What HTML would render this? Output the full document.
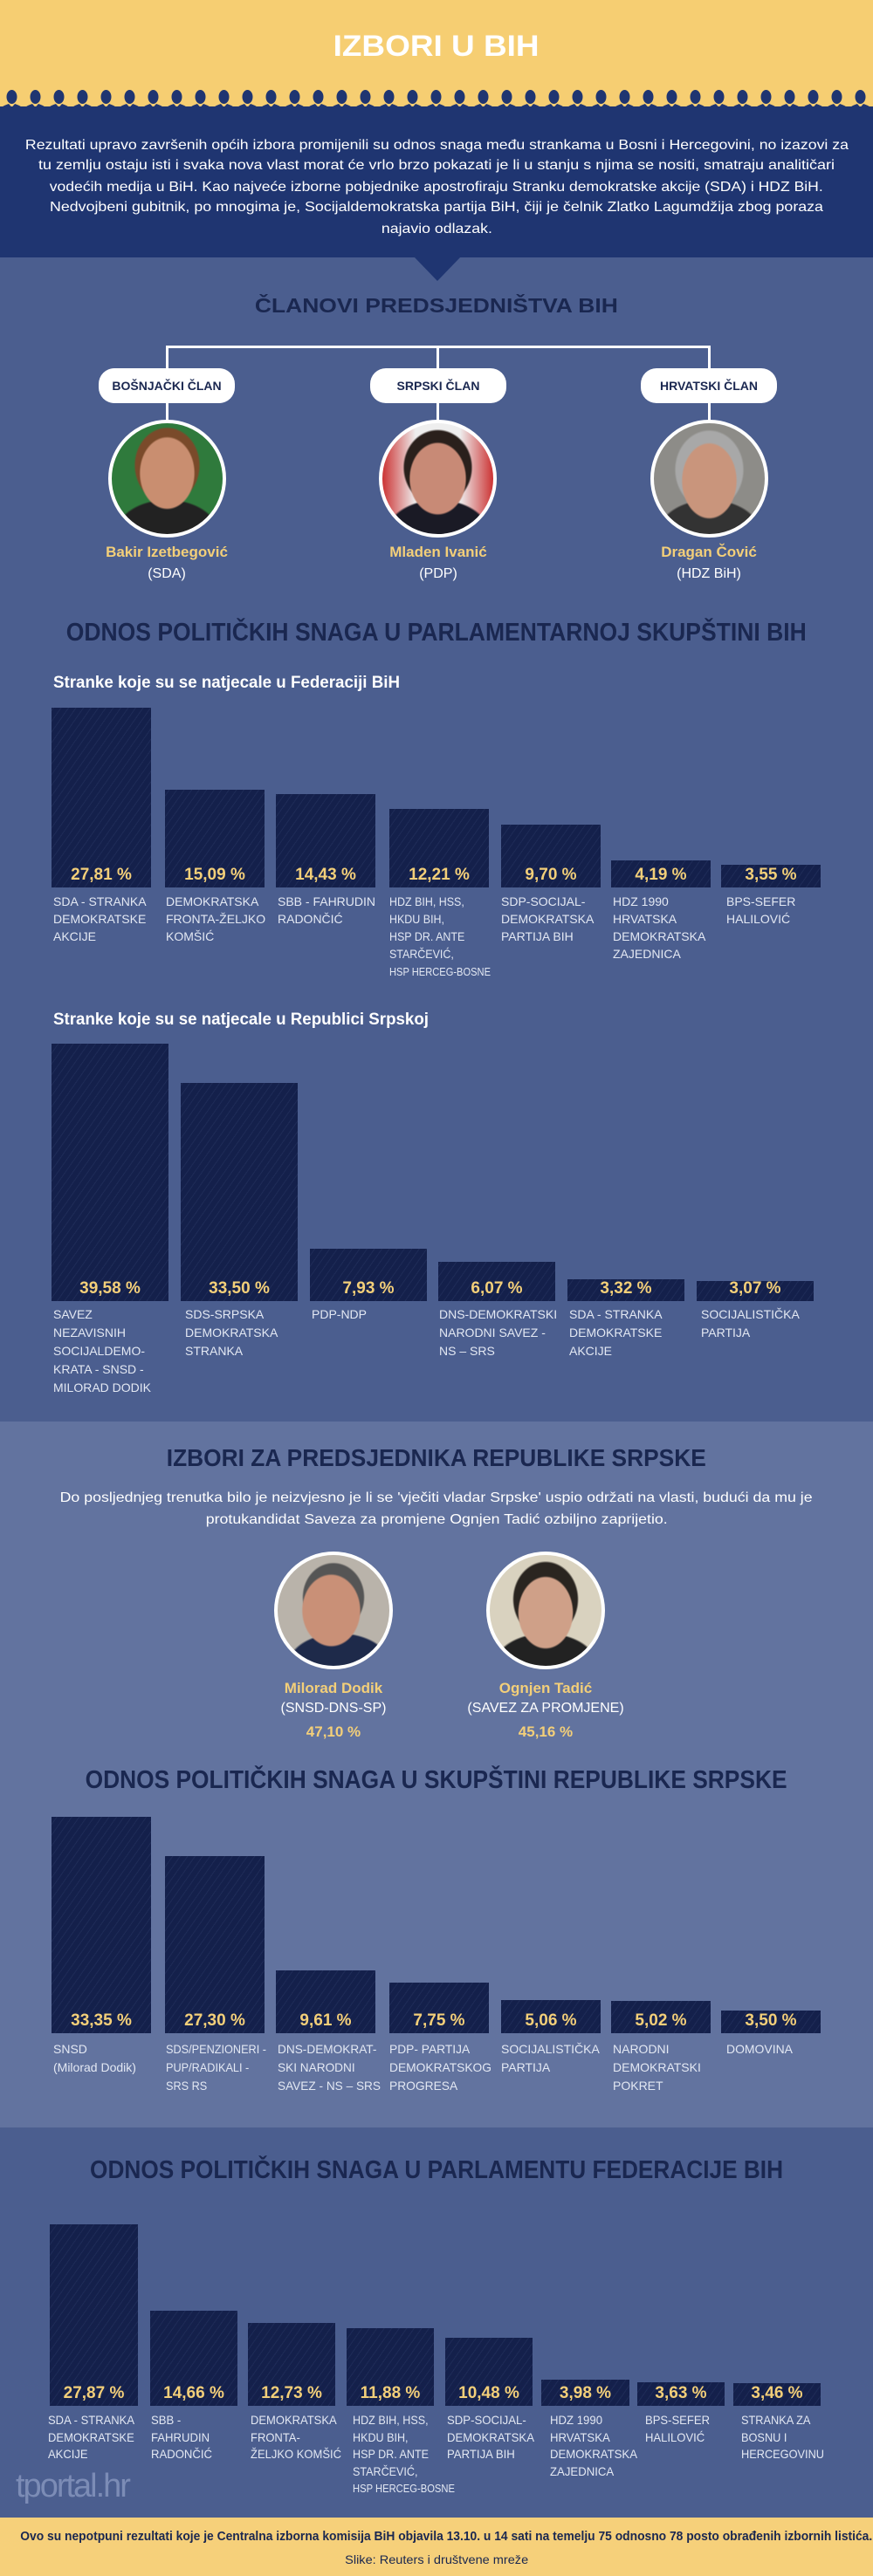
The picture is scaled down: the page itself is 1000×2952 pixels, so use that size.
<!DOCTYPE html>
<html><head><meta charset="utf-8">
<style>
*{margin:0;padding:0;box-sizing:border-box}
body{width:1000px;height:2952px;position:relative;overflow:hidden;font-family:"Liberation Sans Narrow","Liberation Sans",sans-serif;background:#4b5e8f}
.a{position:absolute}
.c{text-align:center;white-space:nowrap}
.fit{display:inline-block;white-space:nowrap}
.h{color:#1a2750;font-weight:bold;text-align:center;white-space:nowrap;left:0;width:1000px}
.bar{position:absolute;background:#14204b;background-image:repeating-linear-gradient(-55deg,#14204b 0 6px,#1e2b57 6px 7px)}
.val{position:absolute;left:0;right:0;bottom:2px;text-align:center;color:#f3cf79;font-weight:bold;font-size:19px;line-height:24px;white-space:nowrap}
.lab{position:absolute;color:#e3e8f3;font-size:14px;line-height:20px;text-transform:uppercase;white-space:nowrap;transform-origin:left top}
.pill{position:absolute;background:#fff;border-radius:18px;height:40px;width:156px;color:#1a2750;font-weight:bold;font-size:14px;line-height:40px;text-align:center}
.line{position:absolute;background:#fff}
.ph{position:absolute;border:4px solid #fff;border-radius:50%;overflow:hidden}
.name{position:absolute;color:#f3cf79;font-weight:bold;font-size:17px;text-align:center;white-space:nowrap}
.party{position:absolute;color:#fff;font-size:16px;text-align:center;white-space:nowrap}
.p{color:#fff;font-size:16px;line-height:24px;text-align:center;white-space:nowrap;left:0;width:1000px}
.sub{color:#fff;font-weight:bold;font-size:19px;white-space:nowrap;transform-origin:left top}
</style></head><body>
<div class="a" style="left:0;top:0;width:1000px;height:124px;background:#f6ce72"></div>
<div class="a" style="left:0;top:122px;width:1000px;height:173px;background:#1f3571"></div>
<svg class="a" style="left:0;top:100px" width="1000" height="30">
<defs><pattern id="pp" width="27" height="30" patternUnits="userSpaceOnUse">
<ellipse cx="13.5" cy="11" rx="6" ry="8" fill="#1f3571"/>
<path d="M0 30 L0 24 Q6 20 10 19 L13.5 23 L17 19 Q21 20 27 24 L27 30Z" fill="#1f3571"/>
</pattern></defs>
<rect width="1000" height="30" fill="url(#pp)"/></svg>
<div class="a c" style="left:0;width:1000px;top:34px;font-size:34px;font-weight:bold;color:#fff;line-height:38px"><span class="fit" style="--w:236">IZBORI U BIH</span></div>
<div class="a p" style="top:155px"><span class="fit" style="--w:943">Rezultati upravo završenih općih izbora promijenili su odnos snaga među strankama u Bosni i Hercegovini, no izazovi za</span></div>
<div class="a p" style="top:178px"><span class="fit" style="--w:912">tu zemlju ostaju isti i svaka nova vlast morat će vrlo brzo pokazati je li u stanju s njima se nositi, smatraju analitičari</span></div>
<div class="a p" style="top:203px"><span class="fit" style="--w:886">vodećih medija u BiH. Kao najveće izborne pobjednike apostrofiraju Stranku demokratske akcije (SDA) i HDZ BiH.</span></div>
<div class="a p" style="top:226px"><span class="fit" style="--w:886">Nedvojbeni gubitnik, po mnogima je, Socijaldemokratska partija BiH, čiji je čelnik Zlatko Lagumdžija zbog poraza</span></div>
<div class="a p" style="top:251px"><span class="fit" style="--w:127">najavio odlazak.</span></div>
<svg class="a" style="left:474px;top:294px" width="54" height="30"><polygon points="0,0 54,0 27,28" fill="#1f3571"/></svg>

<div class="a h" style="top:335px;font-size:23px;line-height:30px"><span class="fit" style="--w:416">ČLANOVI PREDSJEDNIŠTVA BIH</span></div>
<div class="line" style="left:191px;top:396px;width:622px;height:3px"></div>
<div class="line" style="left:190px;top:396px;width:3px;height:27px"></div>
<div class="line" style="left:500px;top:396px;width:3px;height:27px"></div>
<div class="line" style="left:811px;top:396px;width:3px;height:27px"></div>
<div class="pill" style="left:113px;top:422px">BOŠNJAČKI ČLAN</div>
<div class="pill" style="left:424px;top:422px">SRPSKI ČLAN</div>
<div class="pill" style="left:734px;top:422px">HRVATSKI ČLAN</div>
<div class="line" style="left:190px;top:461px;width:3px;height:22px"></div>
<div class="line" style="left:500px;top:461px;width:3px;height:22px"></div>
<div class="line" style="left:811px;top:461px;width:3px;height:22px"></div>
<div class="ph" style="left:124px;top:481px;width:135px;height:135px;background:radial-gradient(ellipse 32px 42px at 50% 45%,#c98e70 95%,transparent 100%),radial-gradient(ellipse 60px 40px at 50% 100%,#222 95%,transparent 100%),radial-gradient(ellipse 38px 44px at 50% 38%,#7a4a2a 95%,transparent 100%),#2f7a3c"></div>
<div class="ph" style="left:434px;top:481px;width:135px;height:135px;background:radial-gradient(ellipse 33px 42px at 50% 50%,#c88a76 95%,transparent 100%),radial-gradient(ellipse 60px 40px at 50% 100%,#1a1a25 95%,transparent 100%),radial-gradient(ellipse 40px 44px at 50% 40%,#2a201c 95%,transparent 100%),linear-gradient(90deg,#c33 0,#eee 30%,#eee 70%,#c33 100%)"></div>
<div class="ph" style="left:745px;top:481px;width:135px;height:135px;background:radial-gradient(ellipse 32px 44px at 50% 52%,#c9957c 95%,transparent 100%),radial-gradient(ellipse 60px 40px at 50% 100%,#333 95%,transparent 100%),radial-gradient(ellipse 40px 46px at 50% 42%,#a8a8a8 95%,transparent 100%),#8d8c88"></div>
<div class="name" style="left:91px;width:200px;top:623px">Bakir Izetbegović</div>
<div class="name" style="left:402px;width:200px;top:623px">Mladen Ivanić</div>
<div class="name" style="left:712px;width:200px;top:623px">Dragan Čović</div>
<div class="party" style="left:91px;width:200px;top:649px">(SDA)</div>
<div class="party" style="left:402px;width:200px;top:649px">(PDP)</div>
<div class="party" style="left:712px;width:200px;top:649px">(HDZ BiH)</div>

<div class="a h" style="top:707px;font-size:29px;line-height:36px"><span class="fit" style="--w:848">ODNOS POLITIČKIH SNAGA U PARLAMENTARNOJ SKUPŠTINI BIH</span></div>
<div class="a sub fit" style="left:61px;top:772px;--w:397">Stranke koje su se natjecale u Federaciji BiH</div>

<div class="bar" style="left:59px;top:811px;width:114px;height:206px"><div class="val">27,81 %</div></div>
<div class="bar" style="left:189px;top:905px;width:114px;height:112px"><div class="val">15,09 %</div></div>
<div class="bar" style="left:316px;top:910px;width:114px;height:107px"><div class="val">14,43 %</div></div>
<div class="bar" style="left:446px;top:927px;width:114px;height:90px"><div class="val">12,21 %</div></div>
<div class="bar" style="left:574px;top:945px;width:114px;height:72px"><div class="val">9,70 %</div></div>
<div class="bar" style="left:700px;top:986px;width:114px;height:31px"><div class="val">4,19 %</div></div>
<div class="bar" style="left:826px;top:991px;width:114px;height:26px"><div class="val">3,55 %</div></div>
<div class="lab fit" style="left:61px;top:1023px;--w:110">SDA - STRANKA<br>DEMOKRATSKE<br>AKCIJE</div>
<div class="lab fit" style="left:190px;top:1023px;--w:115">DEMOKRATSKA<br>FRONTA-ŽELJKO<br>KOMŠIĆ</div>
<div class="lab fit" style="left:318px;top:1023px;--w:114">SBB - FAHRUDIN<br>RADONČIĆ</div>
<div class="lab fit" style="left:446px;top:1023px;--w:116">HDZ BIH, HSS,<br>HKDU BIH,<br>HSP DR. ANTE<br>STARČEVIĆ,<br><span style="font-size:12.5px">HSP HERCEG-BOSNE</span></div>
<div class="lab fit" style="left:574px;top:1023px;--w:108">SDP-SOCIJAL-<br>DEMOKRATSKA<br>PARTIJA BIH</div>
<div class="lab fit" style="left:702px;top:1023px;--w:108">HDZ 1990<br>HRVATSKA<br>DEMOKRATSKA<br>ZAJEDNICA</div>
<div class="lab fit" style="left:832px;top:1023px;--w:80">BPS-SEFER<br>HALILOVIĆ</div>

<div class="a sub fit" style="left:61px;top:1158px;--w:430">Stranke koje su se natjecale u Republici Srpskoj</div>
<div class="bar" style="left:59px;top:1196px;width:134px;height:295px"><div class="val">39,58 %</div></div>
<div class="bar" style="left:207px;top:1241px;width:134px;height:250px"><div class="val">33,50 %</div></div>
<div class="bar" style="left:355px;top:1431px;width:134px;height:60px"><div class="val">7,93 %</div></div>
<div class="bar" style="left:502px;top:1446px;width:134px;height:45px"><div class="val">6,07 %</div></div>
<div class="bar" style="left:650px;top:1466px;width:134px;height:25px"><div class="val">3,32 %</div></div>
<div class="bar" style="left:798px;top:1468px;width:134px;height:23px"><div class="val">3,07 %</div></div>
<div class="lab fit" style="left:61px;top:1496px;line-height:21px;--w:112">SAVEZ<br>NEZAVISNIH<br>SOCIJALDEMO-<br>KRATA - SNSD -<br>MILORAD DODIK</div>
<div class="lab fit" style="left:212px;top:1496px;line-height:21px;--w:107">SDS-SRPSKA<br>DEMOKRATSKA<br>STRANKA</div>
<div class="lab fit" style="left:357px;top:1496px;line-height:21px;--w:65">PDP-NDP</div>
<div class="lab fit" style="left:503px;top:1496px;line-height:21px;--w:136">DNS-DEMOKRATSKI<br>NARODNI SAVEZ -<br>NS – SRS</div>
<div class="lab fit" style="left:652px;top:1496px;line-height:21px;--w:110">SDA - STRANKA<br>DEMOKRATSKE<br>AKCIJE</div>
<div class="lab fit" style="left:803px;top:1496px;line-height:21px;--w:115">SOCIJALISTIČKA<br>PARTIJA</div>

<div class="a" style="left:0;top:1629px;width:1000px;height:809px;background:#62739f"></div>
<div class="a h" style="top:1654px;font-size:28px;line-height:34px"><span class="fit" style="--w:618">IZBORI ZA PREDSJEDNIKA REPUBLIKE SRPSKE</span></div>
<div class="a p" style="top:1705px"><span class="fit" style="--w:862">Do posljednjeg trenutka bilo je neizvjesno je li se 'vječiti vladar Srpske' uspio održati na vlasti, budući da mu je</span></div>
<div class="a p" style="top:1730px"><span class="fit" style="--w:529">protukandidat Saveza za promjene Ognjen Tadić ozbiljno zaprijetio.</span></div>
<div class="ph" style="left:314px;top:1778px;width:136px;height:135px;background:radial-gradient(ellipse 34px 42px at 48% 50%,#c99077 95%,transparent 100%),radial-gradient(ellipse 60px 38px at 55% 100%,#1e2a4a 95%,transparent 100%),radial-gradient(ellipse 36px 40px at 50% 38%,#555 95%,transparent 100%),#b9b3aa"></div>
<div class="ph" style="left:557px;top:1778px;width:136px;height:135px;background:radial-gradient(ellipse 32px 42px at 50% 52%,#cfa088 95%,transparent 100%),radial-gradient(ellipse 60px 38px at 50% 100%,#222 95%,transparent 100%),radial-gradient(ellipse 38px 44px at 50% 40%,#2a2520 95%,transparent 100%),#d9d2bf"></div>
<div class="name" style="left:282px;width:200px;top:1925px">Milorad Dodik</div>
<div class="name" style="left:525px;width:200px;top:1925px">Ognjen Tadić</div>
<div class="party" style="left:282px;width:200px;top:1949px">(SNSD-DNS-SP)</div>
<div class="party" style="left:525px;width:200px;top:1949px">(SAVEZ ZA PROMJENE)</div>
<div class="name" style="left:282px;width:200px;top:1975px">47,10 %</div>
<div class="name" style="left:525px;width:200px;top:1975px">45,16 %</div>

<div class="a h" style="top:2022px;font-size:29px;line-height:36px"><span class="fit" style="--w:804">ODNOS POLITIČKIH SNAGA U SKUPŠTINI REPUBLIKE SRPSKE</span></div>
<div class="bar" style="left:59px;top:2082px;width:114px;height:248px"><div class="val">33,35 %</div></div>
<div class="bar" style="left:189px;top:2127px;width:114px;height:203px"><div class="val">27,30 %</div></div>
<div class="bar" style="left:316px;top:2258px;width:114px;height:72px"><div class="val">9,61 %</div></div>
<div class="bar" style="left:446px;top:2272px;width:114px;height:58px"><div class="val">7,75 %</div></div>
<div class="bar" style="left:574px;top:2292px;width:114px;height:38px"><div class="val">5,06 %</div></div>
<div class="bar" style="left:700px;top:2293px;width:114px;height:37px"><div class="val">5,02 %</div></div>
<div class="bar" style="left:826px;top:2304px;width:114px;height:26px"><div class="val">3,50 %</div></div>
<div class="lab fit" style="left:61px;top:2338px;line-height:21px;--w:105">SNSD<br><span style="text-transform:none">(Milorad Dodik)</span></div>
<div class="lab fit" style="left:190px;top:2338px;line-height:21px;--w:115">SDS/PENZIONERI -<br>PUP/RADIKALI -<br>SRS RS</div>
<div class="lab fit" style="left:318px;top:2338px;line-height:21px;--w:118">DNS-DEMOKRAT-<br>SKI NARODNI<br>SAVEZ - NS – SRS</div>
<div class="lab fit" style="left:446px;top:2338px;line-height:21px;--w:117">PDP- PARTIJA<br>DEMOKRATSKOG<br>PROGRESA</div>
<div class="lab fit" style="left:574px;top:2338px;line-height:21px;--w:114">SOCIJALISTIČKA<br>PARTIJA</div>
<div class="lab fit" style="left:702px;top:2338px;line-height:21px;--w:101">NARODNI<br>DEMOKRATSKI<br>POKRET</div>
<div class="lab fit" style="left:832px;top:2338px;line-height:21px;--w:76">DOMOVINA</div>

<div class="a h" style="top:2469px;font-size:29px;line-height:36px"><span class="fit" style="--w:794">ODNOS POLITIČKIH SNAGA U PARLAMENTU FEDERACIJE BIH</span></div>
<div class="bar" style="left:57px;top:2549px;width:101px;height:208px"><div class="val">27,87 %</div></div>
<div class="bar" style="left:172px;top:2648px;width:100px;height:109px"><div class="val">14,66 %</div></div>
<div class="bar" style="left:284px;top:2662px;width:100px;height:95px"><div class="val">12,73 %</div></div>
<div class="bar" style="left:397px;top:2668px;width:100px;height:89px"><div class="val">11,88 %</div></div>
<div class="bar" style="left:510px;top:2679px;width:100px;height:78px"><div class="val">10,48 %</div></div>
<div class="bar" style="left:620px;top:2727px;width:101px;height:30px"><div class="val">3,98 %</div></div>
<div class="bar" style="left:730px;top:2730px;width:100px;height:27px"><div class="val">3,63 %</div></div>
<div class="bar" style="left:840px;top:2731px;width:100px;height:26px"><div class="val">3,46 %</div></div>
<div class="lab fit" style="left:55px;top:2764px;line-height:19.5px;--w:99">SDA - STRANKA<br>DEMOKRATSKE<br>AKCIJE</div>
<div class="lab fit" style="left:173px;top:2764px;line-height:19.5px;--w:70">SBB -<br>FAHRUDIN<br>RADONČIĆ</div>
<div class="lab fit" style="left:287px;top:2764px;line-height:19.5px;--w:104">DEMOKRATSKA<br>FRONTA-<br>ŽELJKO KOMŠIĆ</div>
<div class="lab fit" style="left:404px;top:2764px;line-height:19.5px;--w:117">HDZ BIH, HSS,<br>HKDU BIH,<br>HSP DR. ANTE<br>STARČEVIĆ,<br><span style="font-size:12.5px">HSP HERCEG-BOSNE</span></div>
<div class="lab fit" style="left:512px;top:2764px;line-height:19.5px;--w:100">SDP-SOCIJAL-<br>DEMOKRATSKA<br>PARTIJA BIH</div>
<div class="lab fit" style="left:630px;top:2764px;line-height:19.5px;--w:100">HDZ 1990<br>HRVATSKA<br>DEMOKRATSKA<br>ZAJEDNICA</div>
<div class="lab fit" style="left:739px;top:2764px;line-height:19.5px;--w:74">BPS-SEFER<br>HALILOVIĆ</div>
<div class="lab fit" style="left:849px;top:2764px;line-height:19.5px;--w:95">STRANKA ZA<br>BOSNU I<br>HERCEGOVINU</div>
<div class="a" style="left:18px;top:2828px;color:#7c8cb6;font-size:38px;letter-spacing:-2px;white-space:nowrap">tportal.hr</div>

<div class="a" style="left:0;top:2885px;width:1000px;height:67px;background:#f6d07a"></div>
<div class="a c" style="left:0;width:1000px;top:2899px;color:#1a2750;font-size:14.5px;font-weight:bold"><span class="fit" style="--w:976">Ovo su nepotpuni rezultati koje je Centralna izborna komisija BiH objavila 13.10. u 14 sati na temelju 75 odnosno 78 posto obrađenih izbornih listića.</span></div>
<div class="a c" style="left:0;width:1000px;top:2925px;color:#1a2750;font-size:14px"><span class="fit" style="--w:210">Slike: Reuters i društvene mreže</span></div>
<script>
document.querySelectorAll('.fit').forEach(function(e){
  var w=parseFloat(getComputedStyle(e).getPropertyValue('--w'));
  var a=e.getBoundingClientRect().width;
  if(w&&a){var k=w/a;if(e.classList.contains('lab')&&k>1)k=1;
  e.style.transform='scaleX('+k.toFixed(4)+')';}
});
</script>
</body></html>
